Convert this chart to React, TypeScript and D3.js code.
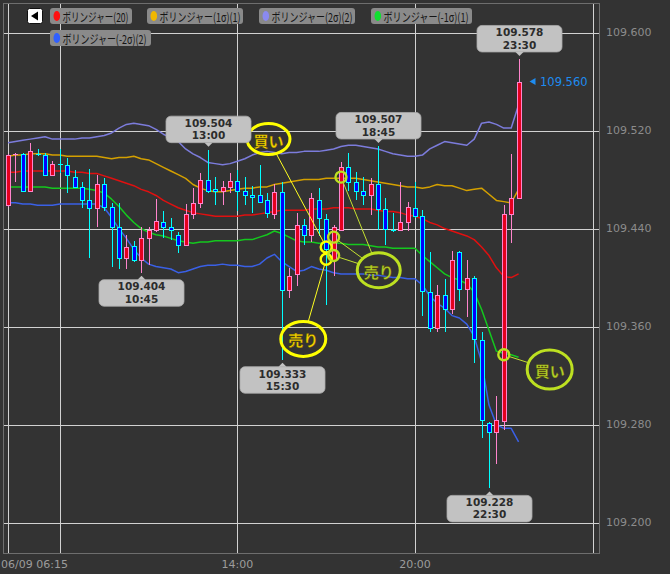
import React from 'react';
import * as d3 from 'd3';

// ---------- data ----------
const START = new Date(2019, 5, 9, 6, 15);
const STEP_MIN = 15;

const opens = [109.459,109.500,109.501,109.471,109.501,109.500,109.484,109.493,109.492,109.482,
  109.474,109.463,109.457,109.476,109.458,109.441,109.416,109.426,109.414,109.432,
  109.439,109.445,109.441,109.435,109.427,109.452,109.461,109.480,109.472,109.471,
  109.474,109.479,109.471,109.467,109.467,109.463,109.452,109.470,109.390,109.403,
  109.443,109.435,109.463,109.448,109.414,109.439,109.490,109.478,109.471,109.467,
  109.476,109.456,109.439,109.439,109.445,109.457,109.450,109.388,109.359,109.386,
  109.374,109.421,109.391,109.400,109.349,109.281,109.274,109.283,109.452,109.465];
const highs = [109.501,109.502,109.502,109.510,109.505,109.502,109.495,109.505,109.498,109.488,
  109.478,109.489,109.484,109.481,109.461,109.461,109.435,109.430,109.441,109.441,
  109.464,109.454,109.449,109.437,109.460,109.473,109.485,109.504,109.482,109.479,
  109.485,109.488,109.482,109.475,109.492,109.469,109.476,109.478,109.408,109.453,
  109.448,109.469,109.473,109.452,109.443,109.494,109.502,109.486,109.482,109.481,
  109.507,109.465,109.453,109.478,109.462,109.478,109.455,109.421,109.394,109.399,
  109.422,109.422,109.414,109.401,109.356,109.282,109.303,109.459,109.501,109.578];
const lows = [109.458,109.478,109.470,109.470,109.499,109.483,109.483,109.485,109.469,109.473,
  109.457,109.416,109.441,109.454,109.409,109.407,109.407,109.413,109.404,109.410,
  109.437,109.432,109.431,109.420,109.426,109.448,109.457,109.469,109.459,109.459,
  109.469,109.454,109.459,109.453,109.461,109.449,109.448,109.333,109.383,109.393,
  109.427,109.429,109.434,109.378,109.401,109.438,109.471,109.463,109.459,109.451,
  109.439,109.427,109.437,109.438,109.438,109.449,109.369,109.356,109.356,109.356,
  109.370,109.381,109.368,109.330,109.269,109.228,109.248,109.276,109.428,109.465];
const closes = [109.500,109.501,109.471,109.503,109.500,109.484,109.493,109.492,109.484,109.474,
  109.463,109.457,109.476,109.458,109.441,109.416,109.425,109.414,109.432,109.439,
  109.446,109.441,109.439,109.427,109.452,109.461,109.480,109.471,109.471,109.474,
  109.479,109.471,109.467,109.466,109.462,109.453,109.470,109.390,109.401,109.443,
  109.435,109.465,109.449,109.423,109.441,109.490,109.478,109.471,109.467,109.476,
  109.456,109.440,109.438,109.445,109.458,109.450,109.389,109.359,109.386,109.374,
  109.414,109.391,109.400,109.350,109.284,109.274,109.284,109.452,109.465,109.560];

const bbUp2 = [109.510,109.511,109.512,109.513,109.514,109.515,109.513,109.513,109.513,109.513,
  109.514,109.514,109.515,109.516,109.518,109.522,109.525,109.526,109.525,109.524,
  109.521,109.517,109.514,109.511,109.505,109.501,109.498,109.494,109.493,109.492,
  109.493,109.495,109.497,109.500,109.502,109.503,109.502,109.501,109.502,109.502,
  109.503,109.503,109.503,109.504,109.505,109.507,109.508,109.508,109.507,109.506,
  109.505,109.503,109.501,109.500,109.499,109.499,109.500,109.505,109.508,109.511,
  109.510,109.509,109.508,109.513,109.526,109.527,109.525,109.522,109.522,109.541];
const bbUp1 = [109.499,109.500,109.500,109.501,109.501,109.501,109.500,109.500,109.499,109.499,
  109.499,109.499,109.499,109.498,109.497,109.498,109.498,109.499,109.497,109.496,
  109.493,109.490,109.487,109.484,109.481,109.476,109.473,109.471,109.470,109.470,
  109.471,109.472,109.473,109.473,109.474,109.474,109.476,109.477,109.478,109.479,
  109.480,109.480,109.480,109.481,109.481,109.481,109.481,109.481,109.480,109.479,
  109.478,109.477,109.476,109.475,109.474,109.474,109.473,109.474,109.476,109.475,
  109.475,109.473,109.471,109.472,109.473,109.468,109.463,109.462,109.461,109.472];
const bbMid = [109.486,109.486,109.487,109.487,109.487,109.487,109.487,109.487,109.487,109.486,
  109.486,109.485,109.485,109.483,109.481,109.479,109.477,109.475,109.472,109.470,
  109.467,109.463,109.460,109.457,109.455,109.453,109.452,109.451,109.450,109.450,
  109.450,109.450,109.451,109.451,109.452,109.453,109.454,109.455,109.455,109.455,
  109.455,109.456,109.456,109.456,109.457,109.457,109.457,109.456,109.456,109.456,
  109.455,109.454,109.454,109.453,109.451,109.450,109.448,109.445,109.443,109.440,
  109.438,109.436,109.434,109.431,109.425,109.418,109.408,109.401,109.400,109.403];
const bbDn1 = [109.474,109.474,109.474,109.474,109.474,109.474,109.473,109.473,109.473,109.473,
  109.473,109.472,109.471,109.469,109.464,109.458,109.451,109.445,109.440,109.437,
  109.435,109.434,109.432,109.430,109.429,109.428,109.429,109.429,109.430,109.430,
  109.430,109.430,109.431,109.431,109.433,109.435,109.438,109.436,109.433,109.430,
  109.429,109.429,109.428,109.428,109.428,109.428,109.427,109.427,109.427,109.426,
  109.425,109.425,109.424,109.424,109.424,109.424,109.418,109.413,109.408,109.403,
  109.400,109.398,109.395,109.388,109.374,109.357,109.340,109.338,109.337,109.335];
const bbDn2 = [109.461,109.461,109.460,109.460,109.459,109.459,109.459,109.460,109.460,109.460,
  109.460,109.460,109.460,109.457,109.449,109.440,109.432,109.423,109.416,109.411,
  109.409,109.408,109.407,109.404,109.405,109.407,109.409,109.410,109.410,109.411,
  109.410,109.410,109.409,109.409,109.411,109.416,109.419,109.413,109.409,109.405,
  109.406,109.409,109.407,109.406,109.404,109.403,109.403,109.403,109.403,109.402,
  109.402,109.401,109.400,109.400,109.399,109.399,109.394,109.385,109.379,109.375,
  109.369,109.367,109.362,109.352,109.331,109.296,109.280,109.277,109.277,109.266];

const priceTicks = [109.2, 109.28, 109.36, 109.44, 109.52, 109.6];
const gridIdx = [0, 7, 31, 55, 79];
const timeLabelIdx = [0, 31, 55];
const timeLabels = ['06/09 06:15', '14:00', '20:00'];

const legendNames = ['ボリンジャー(20)', 'ボリンジャー(1σ)(1)', 'ボリンジャー(2σ)(2)', 'ボリンジャー(-1σ)(1)', 'ボリンジャー(-2σ)(2)'];
const legendColors = ['#ff1010', '#f0b800', '#8a8af0', '#10e030', '#3060ff'];

// callouts: index of candle and whether high or low
const calloutIdx = [69, 27, 50, 18, 37, 65];
const calloutKind = ['high', 'high', 'high', 'low', 'low', 'low'];

const lastPrice = 109.560;

// signal annotations (data coordinates)
const signalDots = [
  { idx: 43, price: 109.425, c: 'y' },
  { idx: 43, price: 109.415, c: 'y' },
  { idx: 45, price: 109.482, c: 'g' },
  { idx: 44, price: 109.433, c: 'g' },
  { idx: 44, price: 109.418, c: 'g' },
  { idx: 67, price: 109.337, c: 'g' },
];
const signalLabels = [
  { text: '買い', idx: 35.2, price: 109.513, c: 'y', rx: 21.5, ry: 15.5, dots: [0] },
  { text: '売り', idx: 39.9, price: 109.350, c: 'y', rx: 22.5, ry: 17.5, dots: [1] },
  { text: '売り', idx: 50.1, price: 109.406, c: 'g', rx: 21.5, ry: 17.5, dots: [2, 3, 4] },
  { text: '買い', idx: 73.2, price: 109.325, c: 'g', rx: 22.5, ry: 19.5, dots: [5] },
];

// ---------- layout ----------
const W = 670, H = 574;
const PL = 3, PT = 3, PR = 600, PB = 554;
const legendLayout = [
  { x: 50, y: 8, w: 82, tw: 66 },
  { x: 147, y: 8, w: 96, tw: 81 },
  { x: 259, y: 8, w: 96, tw: 81 },
  { x: 371, y: 8, w: 101, tw: 85 },
  { x: 50, y: 30, w: 101, tw: 84 },
];
const numFont = '"DejaVu Sans", Verdana, sans-serif';
const jpFont = '"Noto Sans CJK JP", "Noto Sans", sans-serif';

export default function App() {
  const tAt = (i: number) => new Date(START.getTime() + i * STEP_MIN * 60000);
  const x = d3.scaleTime().domain([tAt(0), tAt(79)]).range([8, 592.6]);
  const y = d3.scaleLinear().domain([109.2, 109.6]).range([522.7, 32.5]);
  const xi = (i: number) => x(tAt(i));
  const fmtP = d3.format('.3f');
  const fmtT = d3.timeFormat('%H:%M');

  const bands = [
    { data: bbUp2, color: '#7c7cdc' },
    { data: bbUp1, color: '#d4a000' },
    { data: bbMid, color: '#e01010' },
    { data: bbDn1, color: '#14c81e' },
    { data: bbDn2, color: '#3a60e6' },
  ];
  const line = d3.line<number>().x((_, i) => xi(i)).y(v => y(v));

  const yellow = { stroke: '#ffff00', text: '#f0d000', line: '#ffff20' };
  const lime = { stroke: '#bde021', text: '#b2d12a', line: '#c4e030' };
  const pal = (c: string) => (c === 'y' ? yellow : lime);

  return (
    <svg width={W} height={H} style={{ position: 'absolute', left: 0, top: 0, display: 'block' }}>
      <defs>
        <clipPath id="plot"><rect x={PL} y={PT} width={PR - PL} height={PB - PT} /></clipPath>
      </defs>
      <rect x={0} y={0} width={W} height={H} fill="#333333" />

      {/* grid */}
      <g stroke="#d2d2d2" strokeWidth={1}>
        {priceTicks.map(p => {
          const yy = Math.round(y(p)) + 0.5;
          return <line key={'h' + p} x1={PL} x2={PR} y1={yy} y2={yy} />;
        })}
        {gridIdx.map(i => {
          const xx = Math.round(xi(i)) + 0.5;
          return <line key={'v' + i} x1={xx} x2={xx} y1={PT} y2={PB} />;
        })}
      </g>
      <rect x={PL + 0.5} y={PT + 0.5} width={PR - PL - 1} height={PB - PT - 1} fill="none" stroke="#6e6e6e" />

      {/* right axis */}
      <g fontFamily={numFont} fontSize={11} fill="#8c8c8c">
        {priceTicks.map(p => (
          <text key={'t' + p} x={606} y={y(p)} dominantBaseline="central">{fmtP(p)}</text>
        ))}
      </g>
      {/* bottom axis */}
      <g fontFamily={numFont} fontSize={11} fill="#9c9c9c">
        {timeLabelIdx.map((i, k) => (
          <text key={'b' + i} x={k === 0 ? 1 : xi(i)} y={564} textAnchor={k === 0 ? 'start' : 'middle'} dominantBaseline="central">{timeLabels[k]}</text>
        ))}
      </g>

      <g clipPath="url(#plot)">
        {/* bands */}
        {bands.map((b, k) => (
          <path key={'band' + k} d={line(b.data) || ''} fill="none" stroke={b.color} strokeWidth={1.5} strokeLinejoin="round" />
        ))}

        {/* candles */}
        {opens.map((o, i) => {
          const c = closes[i];
          const up = c >= o;
          const cx = Math.round(xi(i));
          const yTop = Math.round(y(Math.max(o, c)));
          const yBot = Math.round(y(Math.min(o, c)));
          const hgt = Math.max(yBot - yTop, 1);
          const wick = up ? '#ff84cc' : '#00ffff';
          const fill = up ? '#e4001e' : '#0000ff';
          return (
            <g key={'c' + i}>
              <line x1={cx + 0.5} x2={cx + 0.5} y1={Math.round(y(highs[i]))} y2={Math.round(y(lows[i]))} stroke={wick} strokeWidth={1} />
              {hgt <= 1 ? (
                <rect x={cx - 2} y={yTop} width={5} height={1} fill={wick} />
              ) : (
                <rect x={cx - 1.5} y={yTop + 0.5} width={4} height={hgt} fill={fill} stroke={wick} strokeWidth={1} />
              )}
            </g>
          );
        })}

        {/* signal lines */}
        {signalLabels.map((l, k) => {
          const cx = xi(l.idx), cy = y(l.price);
          return l.dots.map(di => {
            const d = signalDots[di];
            const tx = xi(d.idx), ty = y(d.price);
            const dx = tx - cx, dy = ty - cy;
            const t = 1 / Math.sqrt((dx / l.rx) ** 2 + (dy / l.ry) ** 2);
            const len = Math.sqrt(dx * dx + dy * dy);
            const ex = tx - (dx / len) * 6, ey = ty - (dy / len) * 6;
            return <line key={'sl' + k + '_' + di} x1={cx + dx * t} y1={cy + dy * t} x2={ex} y2={ey} stroke={pal(l.c).line} strokeWidth={1} />;
          });
        })}
        {signalDots.map((d, k) => (
          <circle key={'sd' + k} cx={xi(d.idx)} cy={y(d.price)} r={5.5} fill="none" stroke={pal(d.c).stroke} strokeWidth={2.4} />
        ))}
        {signalLabels.map((l, k) => (
          <g key={'slab' + k}>
            <ellipse cx={xi(l.idx)} cy={y(l.price)} rx={l.rx} ry={l.ry} fill="none" stroke={pal(l.c).stroke} strokeWidth={3} />
            <text x={xi(l.idx)} y={y(l.price) + 1} textAnchor="middle" dominantBaseline="central" fontFamily={jpFont} fontWeight="bold" fontSize={15} fill={pal(l.c).text} stroke="#5a4a00" strokeWidth={0.3}>{l.text}</text>
          </g>
        ))}

        {/* callouts */}
        {calloutIdx.map((i, k) => {
          const cx = Math.round(xi(i)) + 0.5;
          const hi = calloutKind[k] === 'high';
          const v = hi ? highs[i] : lows[i];
          const ay = y(v);
          const bw = 85, bh = 26.5;
          const top = hi ? ay - 7.5 - bh : ay + 7;
          const tri = hi
            ? `M${cx - 4},${top + bh} L${cx + 4},${top + bh} L${cx},${top + bh + 4} Z`
            : `M${cx - 4},${top} L${cx + 4},${top} L${cx},${top - 4} Z`;
          return (
            <g key={'co' + k}>
              <rect x={cx - bw / 2} y={top} width={bw} height={bh} rx={5} fill="#c2c2c2" stroke="#aaaaaa" strokeWidth={0.8} />
              <path d={tri} fill="#c2c2c2" />
              <text x={cx} y={top + 6.8} textAnchor="middle" dominantBaseline="central" fontFamily={numFont} fontWeight="bold" fontSize={10.5} fill="#2c2c2c">{fmtP(v)}</text>
              <text x={cx} y={top + 19.1} textAnchor="middle" dominantBaseline="central" fontFamily={numFont} fontWeight="bold" fontSize={10.5} fill="#2c2c2c">{fmtT(tAt(i))}</text>
            </g>
          );
        })}

        {/* last price marker */}
        <g>
          <path d={`M${529.5},${y(lastPrice)} L${535.5},${y(lastPrice) - 3.5} L${535.5},${y(lastPrice) + 3.5} Z`} fill="#1e8cf0" />
          <text x={540} y={y(lastPrice)} dominantBaseline="central" fontFamily={numFont} fontSize={11.5} fill="#1e8cf0">{fmtP(lastPrice)}</text>
        </g>

        {/* legend */}
        <g>
          <rect x={27.5} y={8.5} width={15} height={15} rx={2} fill="#ffffff" stroke="#111111" />
          <path d="M31,16 L38,11.5 L38,20.5 Z" fill="#000000" />
        </g>
        {legendNames.map((name, k) => {
          const L = legendLayout[k];
          return (
            <g key={'lg' + k}>
              <rect x={L.x} y={L.y} width={L.w} height={16} rx={3} fill="#8a8a8a" />
              <ellipse cx={L.x + 6.8} cy={L.y + 8} rx={3.3} ry={5} fill={legendColors[k]} />
              <text x={L.x + 12.5} y={L.y + 8.5} dominantBaseline="central" fontFamily={jpFont} fontSize={12} fill="#151515" textLength={L.tw} lengthAdjust="spacingAndGlyphs">{name}</text>
            </g>
          );
        })}
      </g>
    </svg>
  );
}
